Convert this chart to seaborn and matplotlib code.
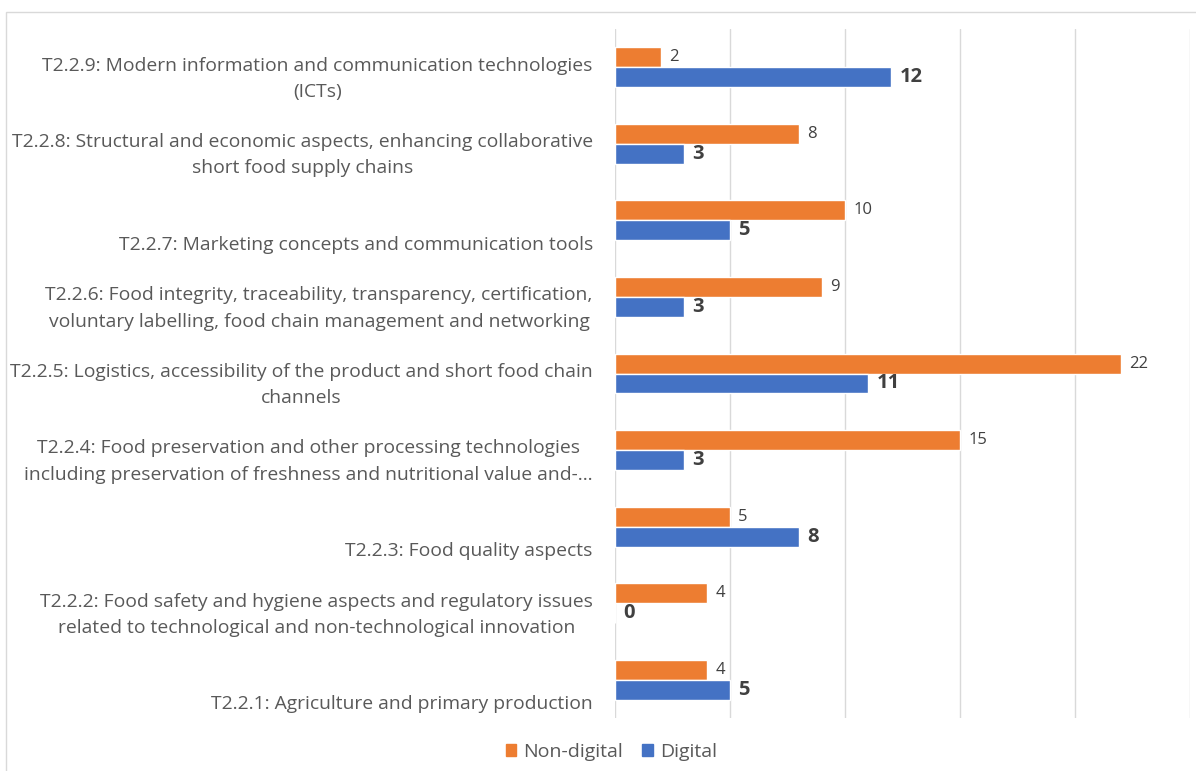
import matplotlib
matplotlib.use("Agg")
import matplotlib.pyplot as plt
import matplotlib.transforms as mtransforms
from matplotlib.patches import Rectangle
import seaborn as sns
import pandas as pd

categories = [
    "T2.2.9: Modern information and communication technologies\n(ICTs)",
    "T2.2.8: Structural and economic aspects, enhancing collaborative\nshort food supply chains",
    "\nT2.2.7: Marketing concepts and communication tools",
    "T2.2.6: Food integrity, traceability, transparency, certification,\nvoluntary labelling, food chain management and networking",
    "T2.2.5: Logistics, accessibility of the product and short food chain\nchannels",
    "T2.2.4: Food preservation and other processing technologies\nincluding preservation of freshness and nutritional value and-\u2026",
    "\nT2.2.3: Food quality aspects",
    "T2.2.2: Food safety and hygiene aspects and regulatory issues\nrelated to technological and non-technological innovation",
    "\nT2.2.1: Agriculture and primary production",
]
non_digital = [2, 8, 10, 9, 22, 15, 5, 4, 4]
digital = [12, 3, 5, 3, 11, 3, 8, 0, 5]
series_names = ["Non-digital", "Digital"]
x_ticks = [0, 5, 10, 15, 20, 25]

ORANGE = "#ED7D31"
BLUE = "#4472C4"
TEXT = "#595959"
LABEL = "#404040"

df = pd.DataFrame({
    "category": categories * 2,
    "series": [series_names[0]] * len(categories) + [series_names[1]] * len(categories),
    "value": non_digital + digital,
})

sns.set_theme(style="white")
plt.rcParams["font.family"] = ["Open Sans", "DejaVu Sans"]

fig = plt.figure(figsize=(11.96, 7.71), dpi=100)
ax = fig.add_axes([615 / 1196, 53 / 771, (1190 - 615) / 1196, (742 - 53) / 771])

sns.barplot(
    data=df, y="category", x="value", hue="series", order=categories,
    hue_order=series_names, palette=[ORANGE, BLUE], orient="h",
    width=0.52, ax=ax, legend=False, saturation=1.0,
)

ax.set_xlim(x_ticks[0], x_ticks[-1])
ax.set_ylim(len(categories) - 0.5, -0.5)
ax.set_xticks(x_ticks)
ax.set_xticklabels([])
ax.tick_params(axis="x", length=0)
ax.tick_params(axis="y", length=0, pad=16)
ax.grid(axis="x", color="#D9D9D9", linewidth=1)
ax.set_axisbelow(True)
for s in ax.spines.values():
    s.set_visible(False)
ax.set_xlabel("")
ax.set_ylabel("")

offset = mtransforms.ScaledTranslation(0, -11.5 / 100, fig.dpi_scale_trans)
for lbl in ax.get_yticklabels():
    lbl.set_fontsize(13.9)
    lbl.set_color(TEXT)
    lbl.set_multialignment("center")
    lbl.set_verticalalignment("center")
    lbl.set_linespacing(1.58)
    lbl.set_transform(lbl.get_transform() + offset)

# value labels: regular for non-digital, bold for digital
for cont, style in zip(ax.containers, [dict(fontsize=12, fontweight="normal"),
                                       dict(fontsize=14.5, fontweight="bold")]):
    ax.bar_label(cont, padding=6, color=LABEL, **style)

handles = [Rectangle((0, 0), 1, 1, color=c) for c in (ORANGE, BLUE)]
fig.legend(handles, series_names, loc="center", bbox_to_anchor=(0.511, 0.025),
           ncol=2, frameon=False, fontsize=14, handlelength=0.55, handleheight=0.6,
           handletextpad=0.35, columnspacing=1.0, labelcolor=TEXT)

# chart-area frame
fig.patches.append(Rectangle((6 / 1196, -0.05), 1.1, (771 - 12) / 771 + 0.05,
                             transform=fig.transFigure, fill=False,
                             edgecolor="#D9D9D9", linewidth=1))

fig.savefig("out.png", dpi=100)
